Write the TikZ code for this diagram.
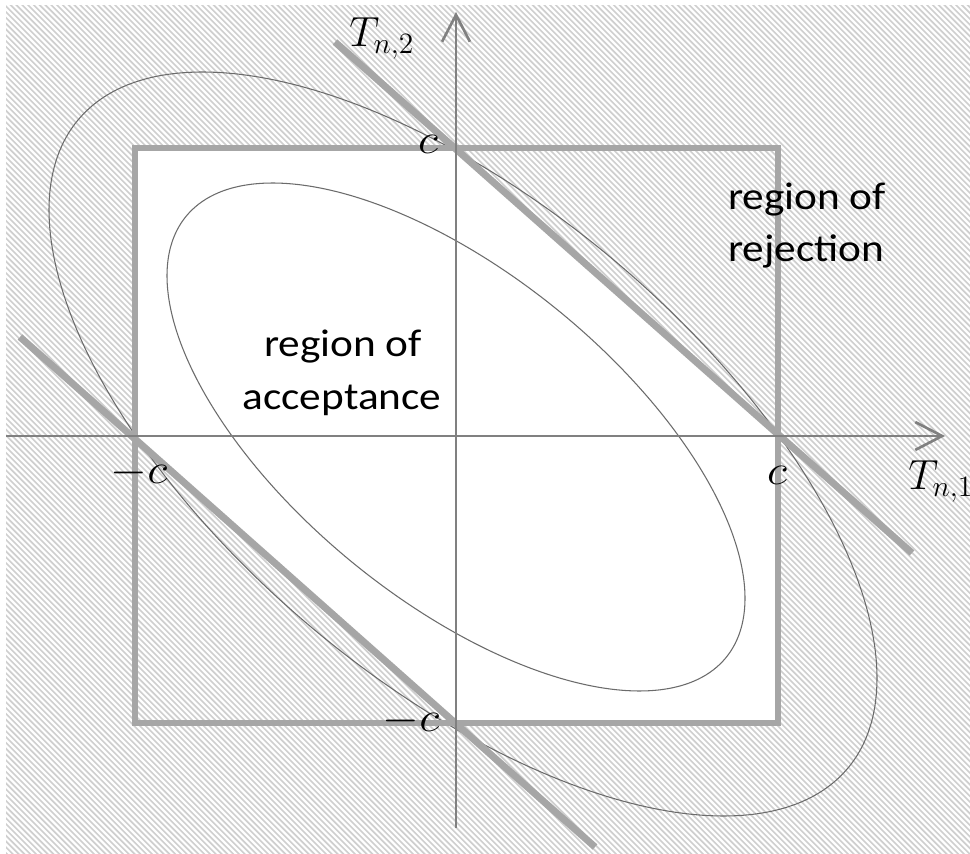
\documentclass[tikz,border=0pt]{standalone}
\usepackage{fix-cm}
\usepackage{graphicx}
\usepackage{fontspec}
\setmainfont{Carlito}
\usetikzlibrary{arrows.meta}
\newcommand\widetxt[1]{\scalebox{1.12}[1]{#1}}
\begin{document}
\begin{tikzpicture}[x=0.02cm, y=-0.02cm,
  hatch/.style={black!19, line width=0.95pt},
  thinell/.style={black!58, line width=0.6pt},
  boxline/.style={black!35, line width=3.4pt},
  diag/.style={black!35, line width=4pt},
  axisline/.style={black!50, line width=1.5pt, -{Straight Barb[length=15.3pt,width=15.9pt]}},
  txt/.style={font=\fontsize{22}{26}\selectfont, inner sep=0pt, anchor=base},
  lab/.style={font=\fontsize{24}{28}\selectfont, inner sep=0pt}]
\useasboundingbox (0,0) rectangle (970,854);
% key points
\coordinate (O) at (456,436);
\coordinate (cT) at (456,148);
\coordinate (cR) at (778,436);
\coordinate (cB) at (456,723);
\coordinate (cL) at (135,436);
\coordinate (sqTL) at (135,148);
\coordinate (sqBR) at (778,723);
\coordinate (u1) at (335,42);
\coordinate (u2) at (912,553);
\coordinate (l1) at (20,337);
\coordinate (l2) at (595,847);
\coordinate (xs) at (6,436);
\coordinate (xe) at (945,436);
\coordinate (ys) at (456,828);
\coordinate (ye) at (456,12);
% hatching
\begin{scope}
  \clip (6,6) rectangle (970,854);
  \foreach \i in {0,...,320} \draw[hatch] (0,{-980+5.8*\i}) -- (1000,{20+5.8*\i});
\end{scope}
% acceptance hexagon (white)
\fill[white] (sqTL) -- (cT) -- (cR) -- (778,723) -- (cB) -- (cL) -- cycle;
% ellipses
\draw[thinell] plot[domain=0:357, samples=120, smooth cycle]
  ({456+289*cos(\x)}, {437-254*cos(\x-129.4)});
\draw[thinell] plot[domain=0:357, samples=120, smooth cycle]
  ({463+414*cos(\x)}, {444-372*cos(\x-129)});
% square
\draw[boxline] (sqTL) rectangle (sqBR);
% diagonal boundary lines
\draw[diag] (u1) -- (u2);
\draw[diag] (l1) -- (l2);
% axes
\draw[axisline] (xs) -- (xe);
\draw[axisline] (ys) -- (ye);
% labels
\node[txt] (acc1) at (343,357) {\widetxt{region of}};
\node[txt] (acc2) at (342,410) {\widetxt{acceptance}};
\node[txt] (rej1) at (807,210) {\widetxt{region of}};
\node[txt] (rej2) at (806,262) {\widetxt{rejection}};
\node[lab, anchor=base west] (t2) at (349,47) {$T_{n,2}$};
\node[lab, anchor=base west] (t1) at (908,490) {$T_{n,1}$};
\node[lab, anchor=base] (ctop) at (428,154) {\widetxt{$c$}};
\node[lab, anchor=base] (cright) at (777,484) {\widetxt{$c$}};
\node[lab, anchor=base] (cleft) at (139,483) {\widetxt{$-c$}};
\node[lab, anchor=base] (cbot) at (411,731) {\widetxt{$-c$}};
\end{tikzpicture}
\end{document}
